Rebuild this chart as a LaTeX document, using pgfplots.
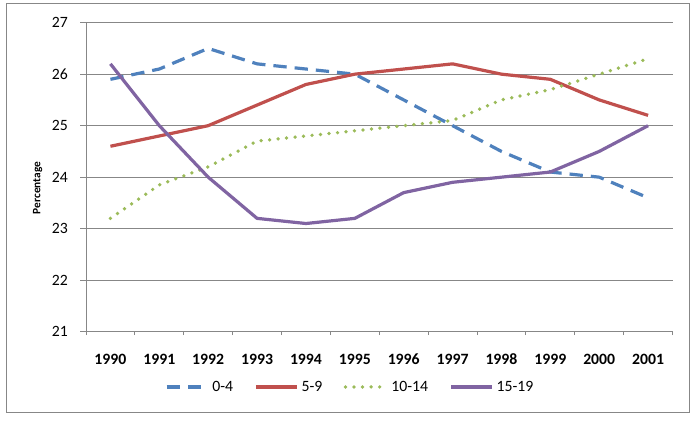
\documentclass[border=0pt]{standalone}
\usepackage{fontspec}
\setmainfont{Carlito}
\usepackage{pgfplots}
\pgfplotsset{compat=1.18}
\definecolor{sblue}{HTML}{4F81BD}
\definecolor{sred}{HTML}{C0504D}
\definecolor{sgreen}{HTML}{9BBB59}
\definecolor{spurple}{HTML}{8064A2}
\definecolor{gridgray}{HTML}{878787}
\begin{document}
\begin{tikzpicture}
\useasboundingbox (0,0) rectangle (522bp,315.75bp);
\draw[gridgray, line width=0.75bp] (5bp,6.4bp) rectangle (517bp,312.75bp);
\begin{axis}[
  at={(64.5bp,67bp)}, anchor=south west,
  scale only axis, width=439.9bp, height=231.75bp,
  xmin=-0.5, xmax=11.5, ymin=21, ymax=27,
  xtick={0,...,11},
  xticklabels={1990,1991,1992,1993,1994,1995,1996,1997,1998,1999,2000,2001},
  minor xtick={-0.5,0.5,...,11.5},
  ytick={21,...,27},
  tick align=outside,
  major tick length=4.5bp, minor tick length=2.5bp,
  major x tick style={draw=none},
  tick style={gridgray, line width=0.75bp},
  axis lines*=left,
  axis line style={-, gridgray, line width=0.75bp},
  ymajorgrids, grid style={gridgray, line width=0.75bp},
  /pgf/number format/assume math mode=true,
  xticklabel style={font=\fontsize{11.8bp}{14bp}\selectfont\bfseries, anchor=north, inner sep=0pt, yshift=-12bp},
  yticklabel style={font=\fontsize{11.8bp}{14bp}\selectfont, anchor=east, inner sep=0pt, xshift=-9bp},
  ylabel={\textbf{Percentage}},
  ylabel style={font=\fontsize{8.5bp}{10bp}\selectfont, at={(axis description cs:-0.0824,0.465)}, anchor=center},
  legend columns=4,
  legend style={at={(axis description cs:0.451,-0.179)}, anchor=center, draw=none, fill=none,
    font=\fontsize{11.8bp}{14bp}\selectfont,
    /tikz/every even column/.append style={column sep=14bp}},
  legend image code/.code={\draw[#1] (0bp,0bp) -- (31bp,0bp);},
  line join=round,
]
\addplot[sblue, line width=2.4bp, dash pattern=on 10bp off 6bp] coordinates {
(0,25.9) (1,26.1) (2,26.5) (3,26.2) (4,26.1) (5,26.0) (6,25.5) (7,25.0) (8,24.5) (9,24.1) (10,24.0) (11,23.6)};
\addlegendentry{0-4}
\addplot[sred, line width=2.4bp] coordinates {
(0,24.6) (1,24.8) (2,25.0) (3,25.4) (4,25.8) (5,26.0) (6,26.1) (7,26.2) (8,26.0) (9,25.9) (10,25.5) (11,25.2)};
\addlegendentry{5-9}
\addplot[sgreen, line width=2.8bp, line cap=round, dash pattern=on 0bp off 6.4bp] coordinates {
(0,23.2) (1,23.85) (2,24.2) (3,24.7) (4,24.8) (5,24.9) (6,25.0) (7,25.1) (8,25.5) (9,25.7) (10,26.0) (11,26.3)};
\addlegendentry{10-14}
\addplot[spurple, line width=2.4bp] coordinates {
(0,26.2) (1,25.0) (2,24.0) (3,23.2) (4,23.1) (5,23.2) (6,23.7) (7,23.9) (8,24.0) (9,24.1) (10,24.5) (11,25.0)};
\addlegendentry{15-19}
\end{axis}
\end{tikzpicture}
\end{document}
